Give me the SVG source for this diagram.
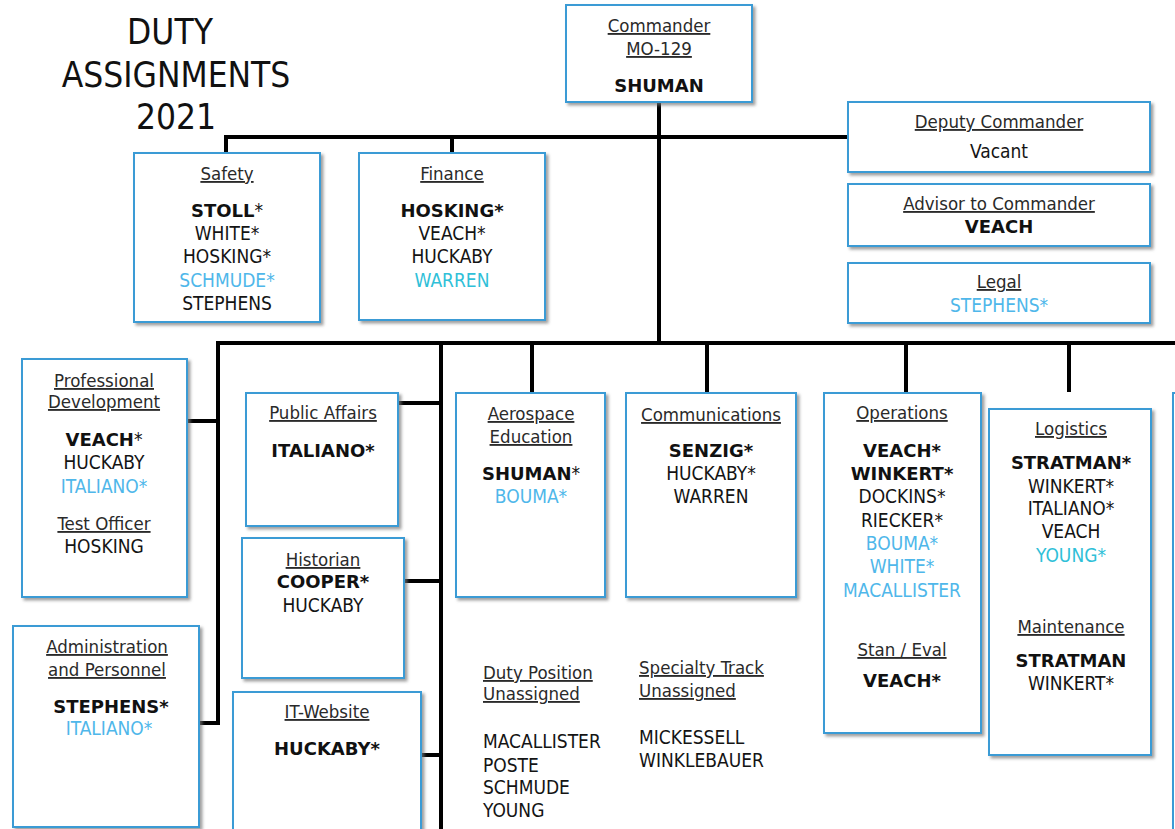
<svg xmlns="http://www.w3.org/2000/svg" width="1175" height="829" viewBox="0 0 1175 829">
<defs>
<filter id="sh" x="-10%" y="-10%" width="130%" height="130%">
<feDropShadow dx="2.5" dy="2.5" stdDeviation="1.5" flood-color="#777" flood-opacity="0.7"/>
</filter>
<style>
.box{fill:#fff;stroke:#3a9bd5;stroke-width:2;filter:url(#sh)}
.t{font-family:"DejaVu Sans Condensed","DejaVu Sans",sans-serif;font-stretch:condensed;font-size:19px;fill:#141414;text-anchor:middle}
.l{text-anchor:start}
.h{text-decoration:underline;fill:#2a2a2a;font-size:18.5px}
.b{font-family:"DejaVu Sans",sans-serif;font-stretch:normal;font-weight:bold;font-size:18px;fill:#111}
.lb{fill:#4fb7ea}
.cy{fill:#2fc0d8}
.title{font-size:35px;fill:#111}
.conn line{stroke:#000;stroke-width:4}
</style>
</defs>
<rect width="1175" height="829" fill="#fff"/>

<g id="title">
<text class="t title" x="170" y="44">DUTY</text>
<text class="t title" x="176" y="87">ASSIGNMENTS</text>
<text class="t title" x="176" y="129">2021</text>
</g>

<g class="conn" id="connectors">
<line x1="659" y1="102" x2="659" y2="345"/>
<line x1="224" y1="137" x2="848" y2="137"/>
<line x1="226" y1="135" x2="226" y2="153"/>
<line x1="452" y1="135" x2="452" y2="153"/>
<line x1="216" y1="343" x2="1175" y2="343"/>
<line x1="218" y1="341" x2="218" y2="725"/>
<line x1="187" y1="421" x2="220" y2="421"/>
<line x1="199" y1="723" x2="220" y2="723"/>
<line x1="441" y1="341" x2="441" y2="829"/>
<line x1="398" y1="403" x2="441" y2="403"/>
<line x1="404" y1="581" x2="441" y2="581"/>
<line x1="421" y1="755" x2="443" y2="755"/>
<line x1="532" y1="343" x2="532" y2="393"/>
<line x1="707" y1="343" x2="707" y2="393"/>
<line x1="906" y1="343" x2="906" y2="393"/>
<line x1="1069" y1="343" x2="1069" y2="392"/>
</g>

<g id="commander">
<rect class="box" x="566" y="5" width="186" height="97"/>
<text class="t h" x="659" y="32">Commander</text>
<text class="t h" x="659" y="55">MO-129</text>
<text class="t b" x="659" y="92">SHUMAN</text>
</g>

<g id="deputy">
<rect class="box" x="848" y="102" width="302" height="70"/>
<text class="t h" x="999" y="128">Deputy Commander</text>
<text class="t" x="999" y="158">Vacant</text>
</g>

<g id="advisor">
<rect class="box" x="848" y="184" width="302" height="62"/>
<text class="t h" x="999" y="210">Advisor to Commander</text>
<text class="t b" x="999" y="233">VEACH</text>
</g>

<g id="legal">
<rect class="box" x="848" y="263" width="302" height="60"/>
<text class="t h" x="999" y="288">Legal</text>
<text class="t lb" x="999" y="312">STEPHENS*</text>
</g>

<g id="safety">
<rect class="box" x="134" y="153" width="186" height="169"/>
<text class="t h" x="227" y="180">Safety</text>
<text class="t" x="227" y="217"><tspan class="b">STOLL</tspan>*</text>
<text class="t" x="227" y="240">WHITE*</text>
<text class="t" x="227" y="263">HOSKING*</text>
<text class="t lb" x="227" y="287">SCHMUDE*</text>
<text class="t" x="227" y="310">STEPHENS</text>
</g>

<g id="finance">
<rect class="box" x="359" y="153" width="186" height="167"/>
<text class="t h" x="452" y="180">Finance</text>
<text class="t b" x="452" y="217">HOSKING*</text>
<text class="t" x="452" y="240">VEACH*</text>
<text class="t" x="452" y="263">HUCKABY</text>
<text class="t cy" x="452" y="287">WARREN</text>
</g>

<g id="profdev">
<rect class="box" x="22" y="359" width="165" height="238"/>
<text class="t h" x="104" y="387">Professional</text>
<text class="t h" x="104" y="408">Development</text>
<text class="t" x="104" y="446"><tspan class="b">VEACH</tspan>*</text>
<text class="t" x="104" y="469">HUCKABY</text>
<text class="t lb" x="104" y="493">ITALIANO*</text>
<text class="t h" x="104" y="530">Test Officer</text>
<text class="t" x="104" y="553">HOSKING</text>
</g>

<g id="admin">
<rect class="box" x="13" y="626" width="186" height="201"/>
<text class="t h" x="107" y="653">Administration</text>
<text class="t h" x="107" y="676">and Personnel</text>
<text class="t b" x="111" y="713">STEPHENS*</text>
<text class="t lb" x="109" y="735">ITALIANO*</text>
</g>

<g id="publicaffairs">
<rect class="box" x="246" y="393" width="152" height="133"/>
<text class="t h" x="323" y="419">Public Affairs</text>
<text class="t b" x="323" y="457">ITALIANO*</text>
</g>

<g id="historian">
<rect class="box" x="242" y="538" width="162" height="140"/>
<text class="t h" x="323" y="566">Historian</text>
<text class="t b" x="323" y="588">COOPER*</text>
<text class="t" x="323" y="612">HUCKABY</text>
</g>

<g id="itwebsite">
<rect class="box" x="233" y="692" width="188" height="150"/>
<text class="t h" x="327" y="718">IT-Website</text>
<text class="t b" x="327" y="755">HUCKABY*</text>
</g>

<g id="aerospace">
<rect class="box" x="456" y="393" width="149" height="204"/>
<text class="t h" x="531" y="420">Aerospace</text>
<text class="t h" x="531" y="443">Education</text>
<text class="t" x="531" y="480"><tspan class="b">SHUMAN</tspan>*</text>
<text class="t lb" x="531" y="503">BOUMA*</text>
</g>

<g id="communications">
<rect class="box" x="626" y="393" width="170" height="204"/>
<text class="t h" x="711" y="421">Communications</text>
<text class="t b" x="711" y="457">SENZIG*</text>
<text class="t" x="711" y="480">HUCKABY*</text>
<text class="t" x="711" y="503">WARREN</text>
</g>

<g id="operations">
<rect class="box" x="824" y="393" width="157" height="340"/>
<text class="t h" x="902" y="419">Operations</text>
<text class="t b" x="902" y="457">VEACH*</text>
<text class="t b" x="902" y="480">WINKERT*</text>
<text class="t" x="902" y="503">DOCKINS*</text>
<text class="t" x="902" y="527">RIECKER*</text>
<text class="t lb" x="902" y="550">BOUMA*</text>
<text class="t lb" x="902" y="573">WHITE*</text>
<text class="t lb" x="902" y="597">MACALLISTER</text>
<text class="t h" x="902" y="656">Stan / Eval</text>
<text class="t b" x="902" y="687">VEACH*</text>
</g>

<g id="logistics">
<rect class="box" x="989" y="409" width="162" height="346"/>
<text class="t h" x="1071" y="435">Logistics</text>
<text class="t b" x="1071" y="469">STRATMAN*</text>
<text class="t" x="1071" y="493">WINKERT*</text>
<text class="t" x="1071" y="515">ITALIANO*</text>
<text class="t" x="1071" y="538">VEACH</text>
<text class="t cy" x="1071" y="562">YOUNG*</text>
<text class="t h" x="1071" y="633">Maintenance</text>
<text class="t b" x="1071" y="667">STRATMAN</text>
<text class="t" x="1071" y="690">WINKERT*</text>
</g>

<g id="rightedge">
<rect class="box" x="1173" y="393" width="30" height="470"/>
</g>

<g id="unassigned-duty">
<text class="t l h" x="483" y="679">Duty Position</text>
<text class="t l h" x="483" y="700">Unassigned</text>
<text class="t l" x="483" y="748">MACALLISTER</text>
<text class="t l" x="483" y="772">POSTE</text>
<text class="t l" x="483" y="794">SCHMUDE</text>
<text class="t l" x="483" y="817">YOUNG</text>
</g>

<g id="unassigned-specialty">
<text class="t l h" x="639" y="674">Specialty Track</text>
<text class="t l h" x="639" y="697">Unassigned</text>
<text class="t l" x="639" y="744">MICKESSELL</text>
<text class="t l" x="639" y="767">WINKLEBAUER</text>
</g>
</svg>
